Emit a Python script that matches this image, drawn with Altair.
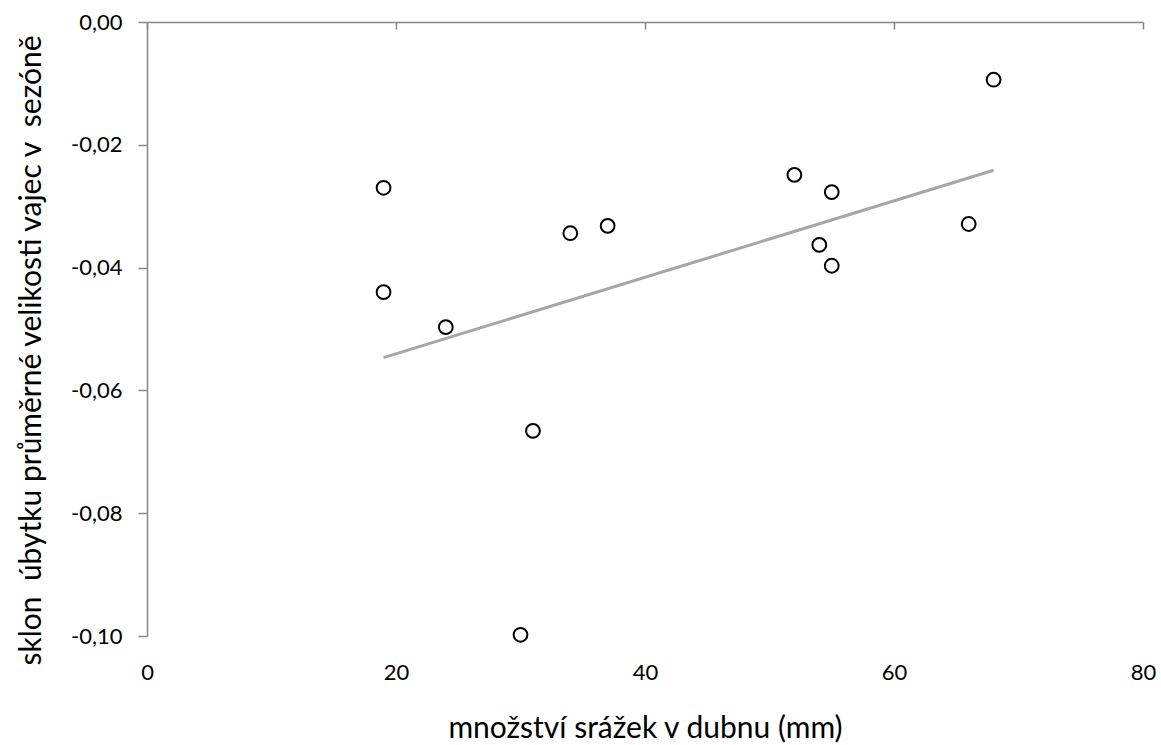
import altair as alt
import pandas as pd

# precipitation in April (mm)
srazky = [19, 19, 24, 30, 31, 34, 37, 52, 54, 55, 55, 66, 68]
# slope of decline of mean egg size in season
sklon = [-0.0270, -0.0440, -0.0497, -0.0998, -0.0666, -0.0344, -0.0332,
         -0.0249, -0.0363, -0.0277, -0.0397, -0.0329, -0.0094]

x_ticks = [0, 20, 40, 60, 80]
y_ticks = [0.0, -0.02, -0.04, -0.06, -0.08, -0.10]

df = pd.DataFrame({"x": srazky, "y": sklon})

FONT = "Lato"
GRAY = "#878787"
W, H = 996, 614

xscale = alt.Scale(domain=[0, 80], nice=False, zero=False)
yscale = alt.Scale(domain=[-0.10, 0.0], nice=False, zero=False)

y_label_expr = "(datum.value < -0.0000001 ? '-' : '') + replace(format(abs(datum.value), '.2f'), '.', ',')"

base = alt.Chart(df)

points = base.mark_point(
    shape="circle", filled=False, fill="white", fillOpacity=1,
    stroke="black", strokeWidth=2, size=190, opacity=1
).encode(
    x=alt.X("x:Q", scale=xscale,
            axis=alt.Axis(orient="bottom", values=x_ticks, domain=False, ticks=False,
                          grid=False, labelPadding=26, labelFlush=False, labelFont=FONT,
                          labelFontSize=22, labelColor="black",
                          title="množství srážek v dubnu (mm)",
                          titleFont=FONT, titleFontSize=30, titleFontWeight="normal",
                          titleColor="black", titlePadding=30)),
    y=alt.Y("y:Q", scale=yscale,
            axis=alt.Axis(values=y_ticks, labelExpr=y_label_expr, domain=True,
                          domainColor=GRAY, domainWidth=1.5, ticks=True, tickColor=GRAY,
                          tickWidth=1.5, tickSize=9, labelPadding=16, labelFlush=False,
                          grid=False, labelFont=FONT, labelFontSize=22, labelColor="black",
                          title="sklon\u00a0 úbytku průměrné velikosti vajec v\u00a0 sezóně",
                          titleFont=FONT, titleFontSize=30, titleFontWeight="normal",
                          titleColor="black", titlePadding=24, titleY=328)),
)

trend = base.transform_regression("x", "y").mark_line(
    color="#A6A6A6", strokeWidth=3
).encode(
    x=alt.X("x:Q", scale=xscale,
            axis=alt.Axis(orient="bottom", offset=-H, values=x_ticks, domain=True,
                          domainColor=GRAY, domainWidth=1.5, ticks=True, tickColor=GRAY,
                          tickWidth=1.5, tickSize=7, labels=False, grid=False, title=None)),
    y=alt.Y("y:Q", scale=yscale),
)

chart = alt.layer(trend, points).resolve_axis(x="independent").properties(
    width=W, height=H,
    autosize=alt.AutoSizeParams(type="none"),
    padding={"left": 147, "top": 22, "right": 18, "bottom": 109},
    background="white",
).configure_view(stroke=None)

chart.save("out.html", embed_options={"renderer": "svg", "actions": False})
